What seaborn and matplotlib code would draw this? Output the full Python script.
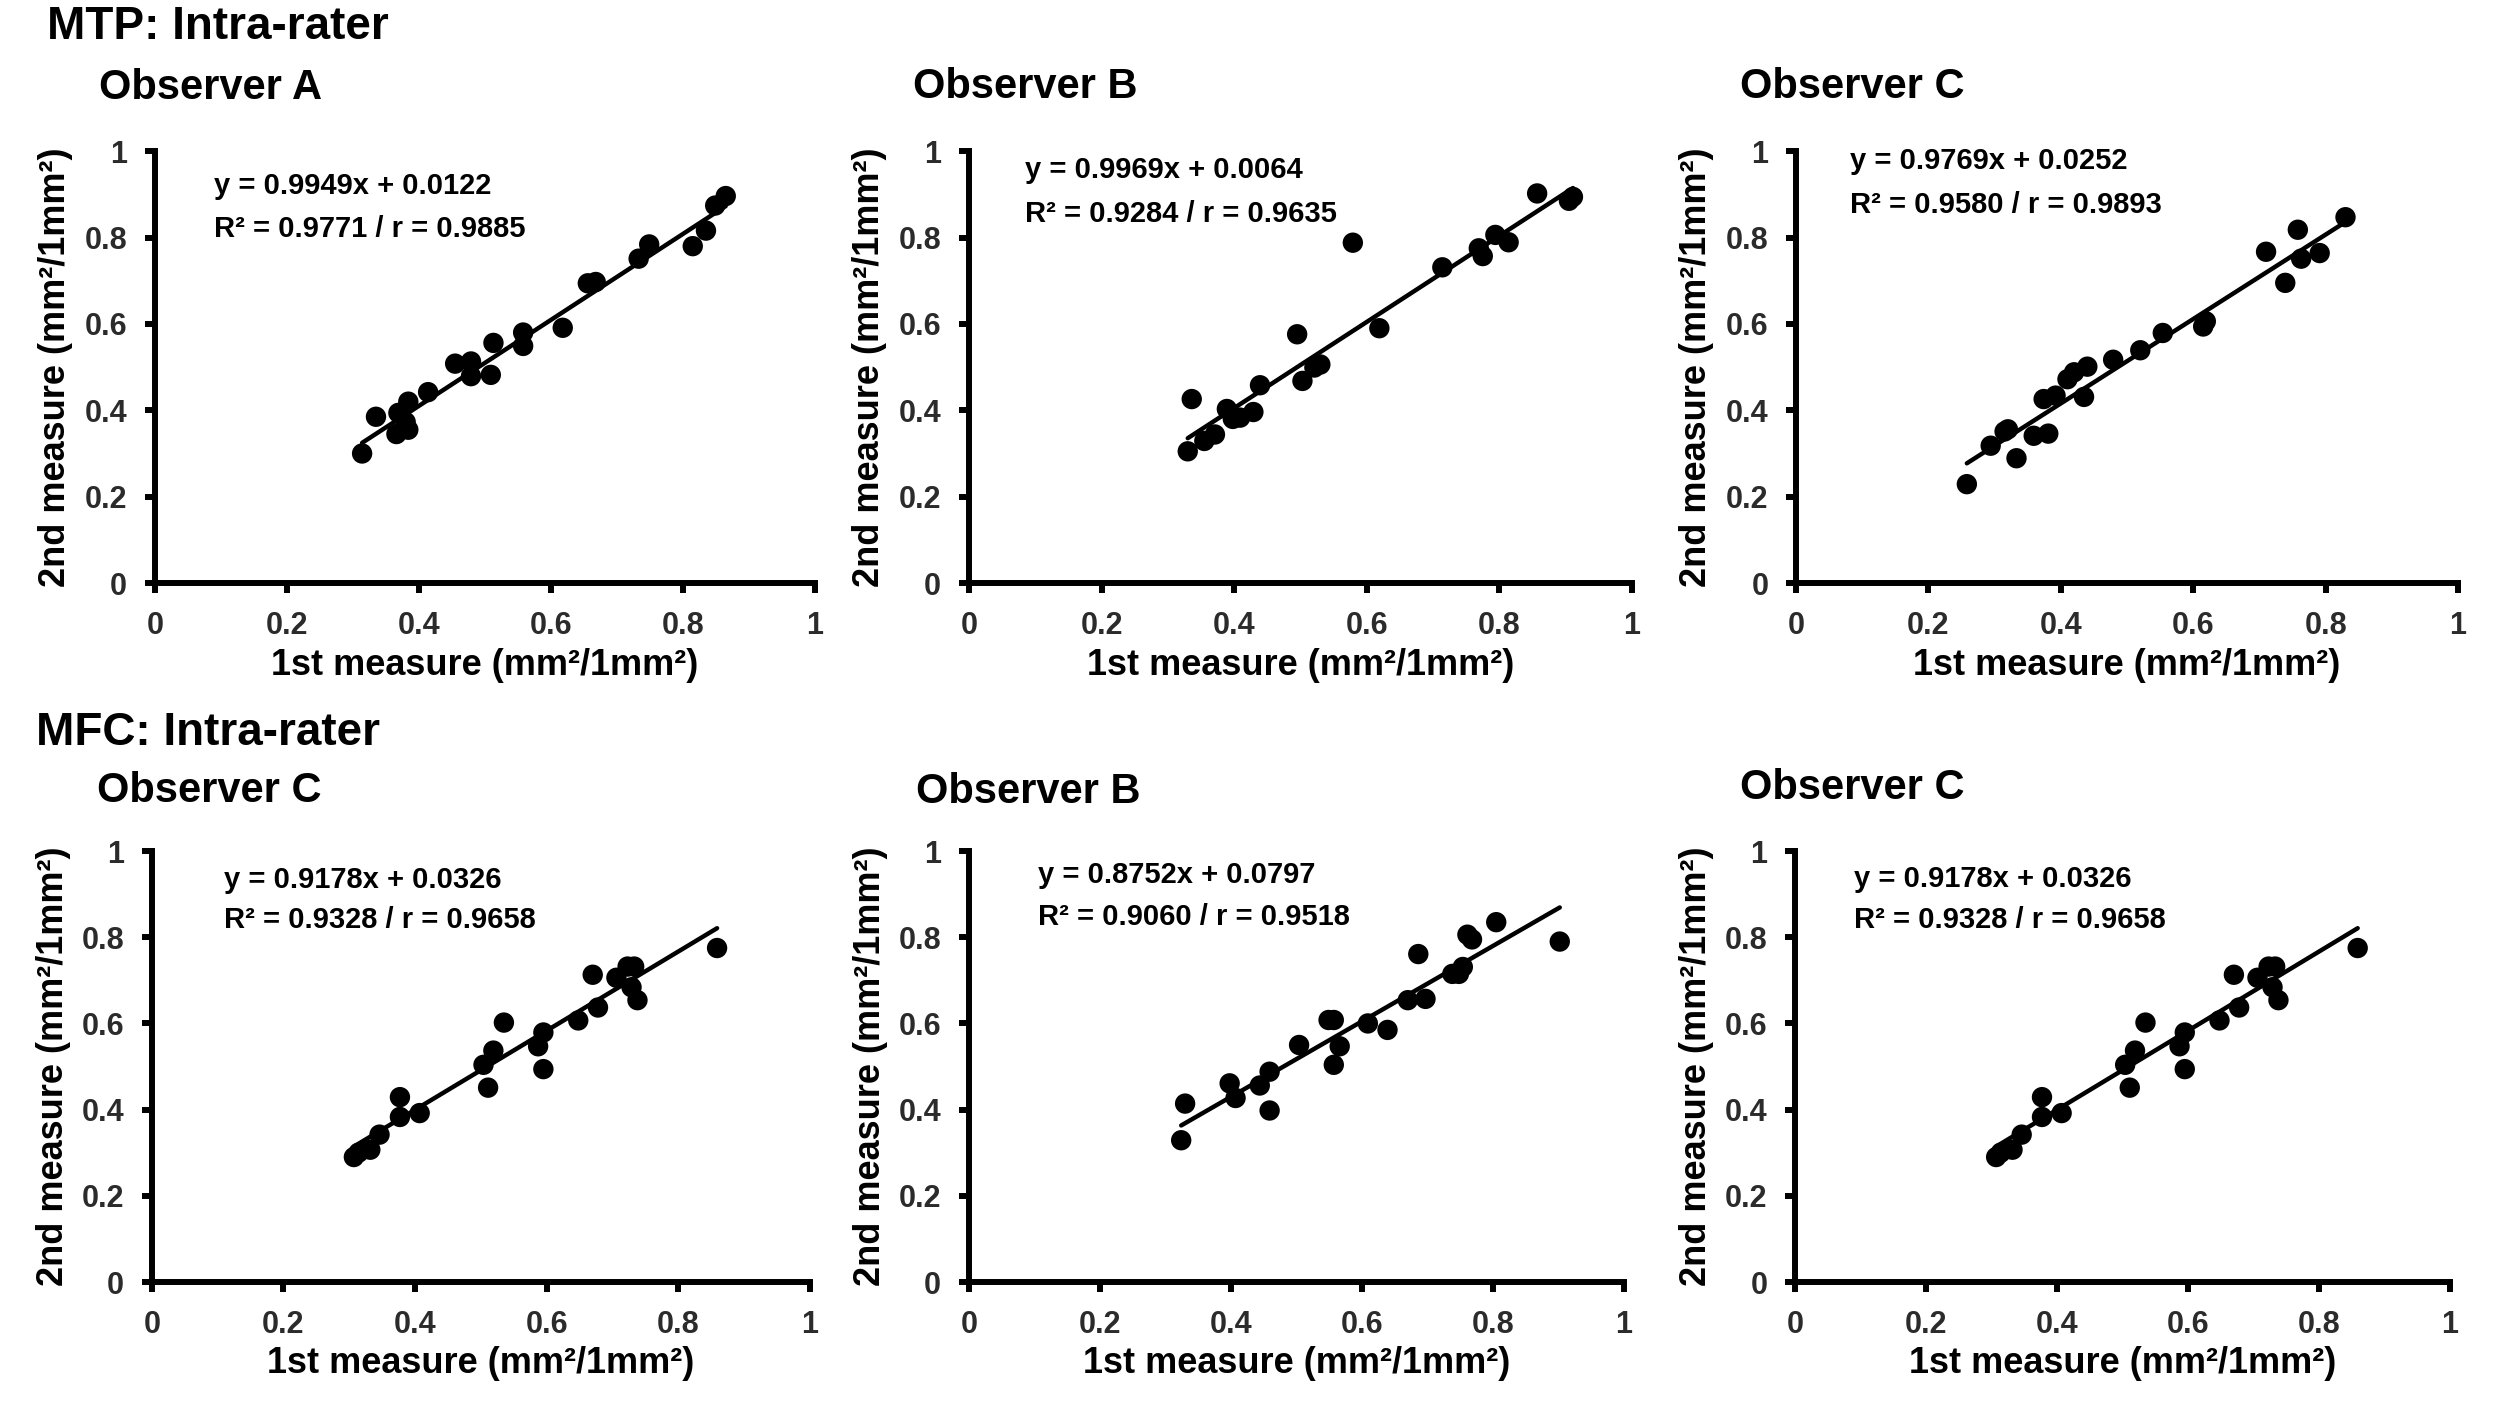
import numpy as np
import matplotlib
matplotlib.use("Agg")
import matplotlib.pyplot as plt
import pandas as pd
import seaborn as sns

# ---- data ----
# MTP, observer A
mtp_a_x = [0.314, 0.335, 0.366, 0.369, 0.384, 0.384, 0.380, 0.414, 0.455, 0.479, 0.479, 0.509,
           0.513, 0.558, 0.558, 0.618, 0.656, 0.668, 0.733, 0.749, 0.815, 0.835, 0.849, 0.865]
mtp_a_y = [0.300, 0.385, 0.345, 0.394, 0.355, 0.420, 0.373, 0.442, 0.508, 0.513, 0.479, 0.482,
           0.556, 0.580, 0.549, 0.591, 0.694, 0.697, 0.751, 0.784, 0.780, 0.816, 0.874, 0.896]
# MTP, observer B
mtp_b_x = [0.330, 0.336, 0.355, 0.371, 0.389, 0.398, 0.409, 0.429, 0.439, 0.495, 0.503, 0.521,
           0.530, 0.579, 0.619, 0.714, 0.769, 0.775, 0.794, 0.814, 0.857, 0.905, 0.911]
mtp_b_y = [0.305, 0.426, 0.329, 0.344, 0.403, 0.380, 0.383, 0.396, 0.458, 0.576, 0.468, 0.499,
           0.506, 0.788, 0.590, 0.731, 0.775, 0.757, 0.806, 0.789, 0.902, 0.885, 0.894]
# MTP, observer C
mtp_c_x = [0.258, 0.294, 0.315, 0.320, 0.333, 0.359, 0.374, 0.381, 0.392, 0.410, 0.420, 0.435,
           0.440, 0.479, 0.520, 0.554, 0.615, 0.619, 0.710, 0.739, 0.758, 0.763, 0.791, 0.830]
mtp_c_y = [0.229, 0.318, 0.351, 0.356, 0.289, 0.341, 0.426, 0.346, 0.434, 0.472, 0.488, 0.431,
           0.501, 0.517, 0.539, 0.579, 0.594, 0.606, 0.767, 0.695, 0.818, 0.751, 0.764, 0.847]
# MFC, observer C (shown twice in the reference)
mfc_c_x = [0.307, 0.314, 0.332, 0.346, 0.377, 0.377, 0.407, 0.504, 0.511, 0.519, 0.535, 0.587,
           0.595, 0.595, 0.648, 0.670, 0.678, 0.706, 0.723, 0.733, 0.729, 0.738, 0.859]
mfc_c_y = [0.290, 0.300, 0.307, 0.342, 0.429, 0.383, 0.392, 0.504, 0.451, 0.537, 0.602, 0.547,
           0.579, 0.494, 0.607, 0.713, 0.637, 0.706, 0.732, 0.732, 0.684, 0.654, 0.775]
# MFC, observer B
mfc_b_x = [0.324, 0.330, 0.398, 0.407, 0.444, 0.459, 0.459, 0.504, 0.549, 0.557, 0.557, 0.566,
           0.609, 0.639, 0.670, 0.686, 0.697, 0.738, 0.748, 0.754, 0.761, 0.768, 0.805, 0.902]
mfc_b_y = [0.329, 0.414, 0.461, 0.427, 0.456, 0.488, 0.398, 0.550, 0.608, 0.608, 0.504, 0.547,
           0.600, 0.585, 0.654, 0.761, 0.657, 0.715, 0.715, 0.731, 0.806, 0.795, 0.835, 0.790]

titles = ["Observer A", "Observer B", "Observer C", "Observer C", "Observer B", "Observer C"]
slopes = [0.9949, 0.9969, 0.9769, 0.9178, 0.8752, 0.9178]
intercepts = [0.0122, 0.0064, 0.0252, 0.0326, 0.0797, 0.0326]
r2_text = ["0.9771 / r = 0.9885", "0.9284 / r = 0.9635", "0.9580 / r = 0.9893",
           "0.9328 / r = 0.9658", "0.9060 / r = 0.9518", "0.9328 / r = 0.9658"]
xs_all = [mtp_a_x, mtp_b_x, mtp_c_x, mfc_c_x, mfc_b_x, mfc_c_x]
ys_all = [mtp_a_y, mtp_b_y, mtp_c_y, mfc_c_y, mfc_b_y, mfc_c_y]

# layout (figure fractions) and annotation spots (axes fractions)
boxes = [[0.0620, 0.5914, 0.2642, 0.3027], [0.3879, 0.5914, 0.2654, 0.3027],
         [0.7190, 0.5914, 0.2650, 0.3027], [0.0608, 0.1016, 0.2634, 0.3020],
         [0.3879, 0.1016, 0.2622, 0.3020], [0.7186, 0.1016, 0.2622, 0.3020]]
eq_pos = [(0.090, 0.919, 0.819), (0.085, 0.956, 0.855), (0.082, 0.976, 0.875),
          (0.110, 0.933, 0.841), (0.105, 0.944, 0.848), (0.090, 0.936, 0.841)]
title_px = [(99, 88), (913, 87), (1740, 87), (97, 791), (916, 792), (1740, 788)]

sns.set_style("ticks")
plt.rcParams['font.family'] = ['Liberation Sans', 'DejaVu Sans']
plt.rcParams['font.weight'] = 'bold'
plt.rcParams['text.color'] = 'black'
plt.rcParams['axes.labelcolor'] = 'black'

W, H = 2498, 1427
fig = plt.figure(figsize=(W / 100, H / 100), dpi=100)

tick_col = '#2b2b2b'
for i in range(6):
    ax = fig.add_axes(boxes[i])
    df = pd.DataFrame({'x': xs_all[i], 'y': ys_all[i]})
    sns.scatterplot(data=df, x='x', y='y', ax=ax, color='black', s=215,
                    edgecolor='none', zorder=3)
    xl = np.array([df.x.min(), df.x.max()])
    sns.lineplot(x=xl, y=slopes[i] * xl + intercepts[i], ax=ax, color='black',
                 linewidth=3.2, zorder=2)
    ax.set_xlim(0, 1)
    ax.set_ylim(0, 1)
    ax.set_xticks([0, 0.2, 0.4, 0.6, 0.8, 1])
    ax.set_yticks([0, 0.2, 0.4, 0.6, 0.8, 1])
    ax.set_xticklabels(['0', '0.2', '0.4', '0.6', '0.8', '1'])
    ax.set_yticklabels(['0', '0.2', '0.4', '0.6', '0.8', '1'])
    sns.despine(ax=ax)
    for sp in ['left', 'bottom']:
        ax.spines[sp].set_linewidth(4.3)
        ax.spines[sp].set_color('black')
    ax.tick_params(direction='out', length=7, width=4.3, pad=13, labelsize=22,
                   colors='black', labelcolor=tick_col)
    for lab in ax.get_xticklabels() + ax.get_yticklabels():
        lab.set_fontweight('bold')
    ax.set_xlabel('1st measure (mm²/1mm²)', fontsize=26, fontweight='bold', va='center',
                  color='black')
    ax.set_ylabel('2nd measure (mm²/1mm²)', fontsize=26, fontweight='bold', va='center',
                  color='black')
    ax.xaxis.set_label_coords(0.5, -0.19)
    ax.yaxis.set_label_coords(-0.15, 0.5)

    ex, ey1, ey2 = eq_pos[i]
    ax.text(ex, ey1, f'y = {slopes[i]:.4f}x + {intercepts[i]:.4f}', transform=ax.transAxes,
            fontsize=21, fontweight='bold', ha='left', va='center', color='black')
    ax.text(ex, ey2, f'R² = {r2_text[i]}', transform=ax.transAxes,
            fontsize=21, fontweight='bold', ha='left', va='center', color='black')

    tx, ty = title_px[i]
    fig.text(tx / W, 1 - ty / H, titles[i], fontsize=30, fontweight='bold',
             ha='left', va='center', color='black')

fig.text(47 / W, 1 - 27 / H, 'MTP: Intra-rater', fontsize=33, fontweight='bold',
         ha='left', va='center', color='black')
fig.text(36 / W, 1 - 733 / H, 'MFC: Intra-rater', fontsize=33, fontweight='bold',
         ha='left', va='center', color='black')

fig.savefig('out.png', dpi=100, facecolor='white')
